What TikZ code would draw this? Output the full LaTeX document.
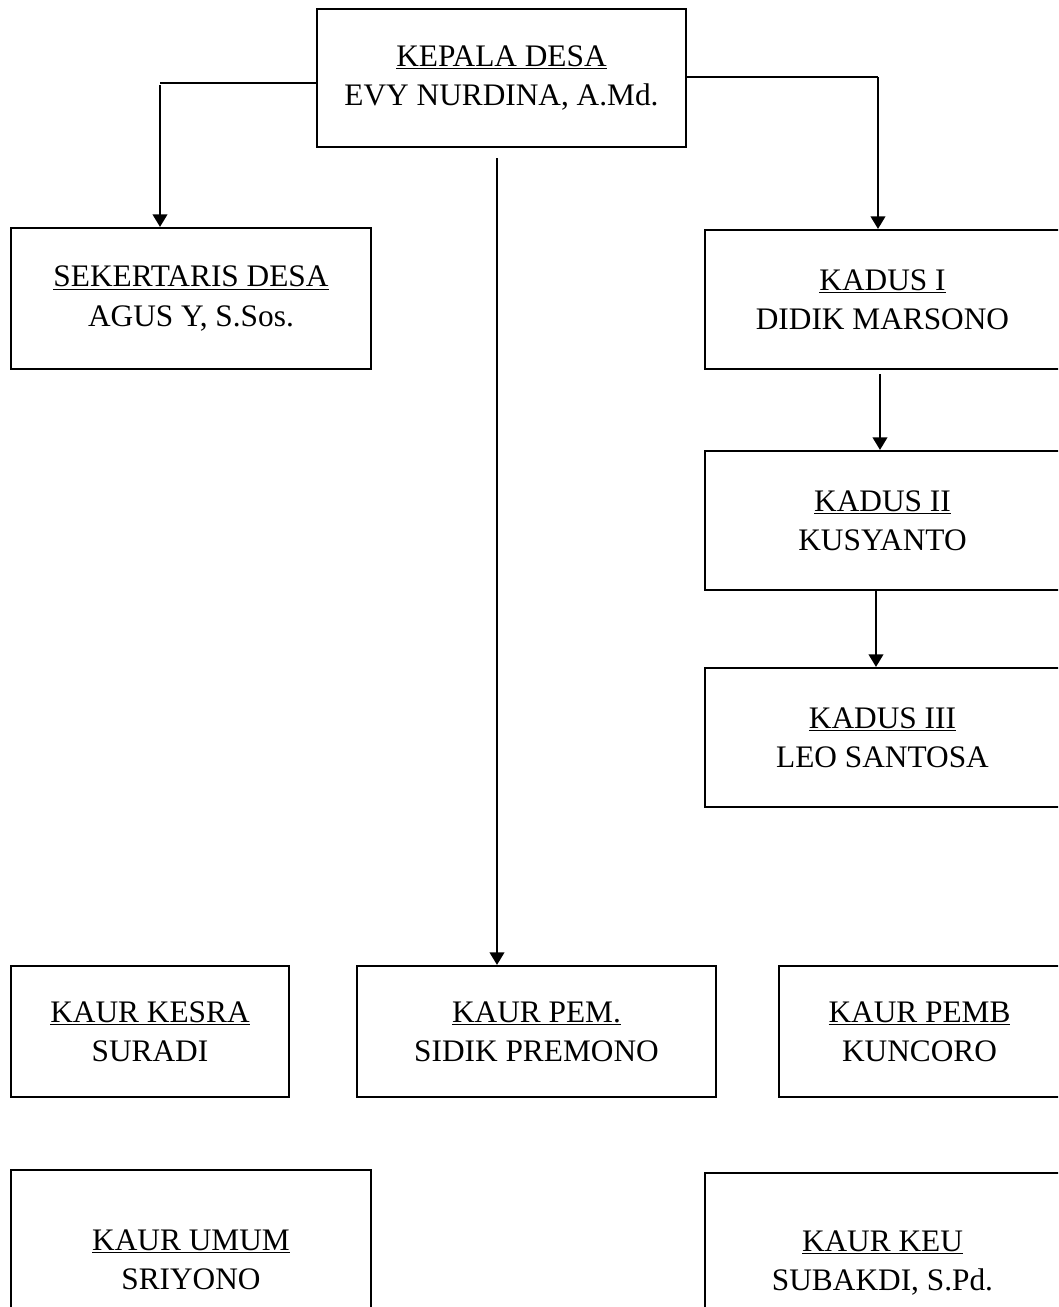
\documentclass[tikz,border=0pt]{standalone}
\usepackage{fontspec}
\setmainfont{Liberation Serif}
\usetikzlibrary{arrows.meta}
\begin{document}
\begin{tikzpicture}[x=0.75pt,y=-0.75pt,
  orgbox/.style 2 args={draw, line width=1.6pt, minimum width=#1*0.75pt, minimum height=#2*0.75pt,
    align=center, inner sep=0pt, font=\fontsize{23.5}{29.5}\selectfont},
  conn/.style={line width=1.6pt, -{Triangle[length=9.5pt,width=11pt]}},
  thinline/.style={line width=0.8pt}]
\useasboundingbox (0,0) rectangle (1058,1307);
\clip (0,0) rectangle (1058,1307);
\fill[white] (0,0) rectangle (1058,1307);

\node[orgbox={369}{138}] (kd) at (501.5,78) {\underline{KEPALA DESA}\\EVY NURDINA, A.Md.};
\node[orgbox={360}{141}] (sek) at (191,298.5) {\underline{SEKERTARIS DESA}\\AGUS Y, S.Sos.};
\node[orgbox={355}{139}] (k1) at (882.5,299.5) {\underline{KADUS I}\\DIDIK MARSONO};
\node[orgbox={355}{139}] (k2) at (882.5,520.5) {\underline{KADUS II}\\KUSYANTO};
\node[orgbox={355}{139}] (k3) at (882.5,737.5) {\underline{KADUS III}\\LEO SANTOSA};
\node[orgbox={278}{131}] (kesra) at (150,1031.5) {\underline{KAUR KESRA}\\SURADI};
\node[orgbox={359}{131}] (pem) at (536.5,1031.5) {\underline{KAUR PEM.}\\SIDIK PREMONO};
\node[orgbox={281}{131}] (pemb) at (919.5,1031.5) {\underline{KAUR PEMB}\\KUNCORO};
\node[orgbox={360}{180}] (umum) at (191,1260) {\underline{KAUR UMUM}\\SRIYONO};
\node[orgbox={355}{180}] (keu) at (882.5,1263) {\underline{KAUR KEU}\\SUBAKDI, S.Pd.};

% left connector
\coordinate (lc) at (160,83);
\coordinate (lcv) at (160,85);
\draw[thinline] (kd.west |- lc) -- (lc);
\draw[conn] (lcv) -- (lcv |- sek.north);

% right connector
\coordinate (rc) at (878,77);
\draw[thinline] (kd.east |- rc) -- (rc);
\draw[conn] (rc) -- (rc |- k1.north);

% middle connector
\coordinate (mc) at (497,158);
\draw[conn] (mc) -- (mc |- pem.north);

% kadus chain
\coordinate (k1b) at (880,374);
\draw[conn] (k1b) -- (k1b |- k2.north);
\coordinate (k2b) at (876,590);
\draw[conn] (k2b) -- (k2b |- k3.north);
\end{tikzpicture}
\end{document}
